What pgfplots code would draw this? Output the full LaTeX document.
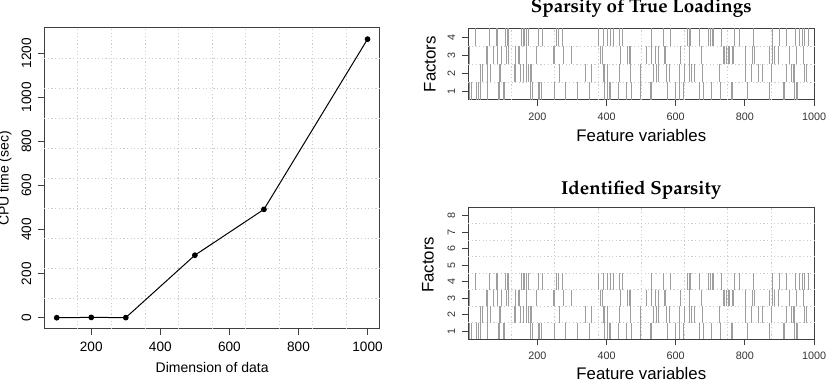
\documentclass[border=0pt]{standalone}
\usepackage{fontspec}
\setmainfont{Liberation Sans}
\usepackage{pgfplots}
\usepackage{pgfplotstable}
\pgfplotsset{compat=1.18}

% Palatino bold for the panel titles
\newcommand\titlefont{\fontencoding{T1}\fontfamily{ppl}\fontseries{b}\selectfont}

% nonzero loadings: feature index and factor
\pgfplotstableread[row sep=\\]{
feat factor\\
20 4\\ 61 4\\ 81 4\\ 84 4\\ 109 4\\ 113 4\\ 117 4\\ 155 4\\ 160 4\\ 164 4\\ 169 4\\ 174 4\\
203 4\\ 215 4\\ 256 4\\ 261 4\\ 273 4\\ 377 4\\ 391 4\\ 402 4\\ 410 4\\ 421 4\\ 437 4\\ 445 4\\
529 4\\ 564 4\\ 585 4\\ 633 4\\ 639 4\\ 643 4\\ 668 4\\ 694 4\\ 699 4\\ 706 4\\ 710 4\\ 732 4\\
771 4\\ 785 4\\ 824 4\\ 880 4\\ 899 4\\ 920 4\\ 947 4\\ 957 4\\ 966 4\\ 973 4\\ 983 4\\
4 3\\ 52 3\\ 56 3\\ 73 3\\ 84 3\\ 97 3\\ 111 3\\ 116 3\\ 138 3\\ 145 3\\ 148 3\\ 169 3\\
198 3\\ 246 3\\ 248 3\\ 275 3\\ 299 3\\ 383 3\\ 387 3\\ 439 3\\ 460 3\\ 466 3\\ 470 3\\ 516 3\\
530 3\\ 540 3\\ 549 3\\ 566 3\\ 569 3\\ 614 3\\ 641 3\\ 675 3\\ 737 3\\ 742 3\\ 747 3\\ 752 3\\
756 3\\ 764 3\\ 768 3\\ 800 3\\ 822 3\\ 826 3\\ 872 3\\ 880 3\\ 884 3\\ 896 3\\ 928 3\\ 949 3\\ 968 3\\
36 2\\ 42 2\\ 56 2\\ 63 2\\ 90 2\\ 94 2\\ 135 2\\ 138 2\\ 150 2\\ 161 2\\ 169 2\\ 174 2\\
181 2\\ 184 2\\ 264 2\\ 338 2\\ 357 2\\ 391 2\\ 395 2\\ 402 2\\ 437 2\\ 468 2\\ 497 2\\ 535 2\\
545 2\\ 549 2\\ 574 2\\ 581 2\\ 612 2\\ 626 2\\ 641 2\\ 646 2\\ 655 2\\ 678 2\\ 726 2\\ 800 2\\
819 2\\ 838 2\\ 851 2\\ 877 2\\ 920 2\\ 935 2\\ 939 2\\ 944 2\\ 973 2\\ 978 2\\
4 1\\ 10 1\\ 23 1\\ 30 1\\ 36 1\\ 56 1\\ 87 1\\ 90 1\\ 102 1\\ 104 1\\ 181 1\\ 186 1\\
203 1\\ 206 1\\ 212 1\\ 248 1\\ 280 1\\ 316 1\\ 352 1\\ 393 1\\ 402 1\\ 408 1\\ 412 1\\ 434 1\\
458 1\\ 472 1\\ 497 1\\ 527 1\\ 530 1\\ 575 1\\ 598 1\\ 610 1\\ 612 1\\ 622 1\\ 668 1\\ 679 1\\
703 1\\ 728 1\\ 761 1\\ 764 1\\ 806 1\\ 872 1\\ 910 1\\ 915 1\\ 944 1\\ 949 1\\ 951 1\\
}\loadings

\pgfplotsset{
  rplot/.style={
    scale only axis, anchor=south west,
    axis line style={black!75, line width=0.5pt},
    tick style={black!75, line width=0.5pt},
    tick align=outside, major tick length=3pt,
    xtick pos=bottom, ytick pos=left,
    /pgf/number format/assume math mode=true,
    major grid style={gray!40, line width=0.4pt, dash pattern=on 0.6pt off 1.2pt},
    extra x tick labels={}, extra y tick labels={},
    extra x tick style={grid=major, major tick length=0pt},
    extra y tick style={grid=major, major tick length=0pt},
  },
  sparse/.style={
    rplot, width=173pt,
    xmin=0.5, xmax=1000.5, ymin=0.5,
    xtick={200,400,...,1000},
    /pgf/number format/1000 sep={},
    extra x ticks={125.5,250.5,...,875.5},
    ticklabel style={font=\fontsize{5.4}{6.5}\selectfont, text=black!80},
    yticklabel style={rotate=90, anchor=south},
    xlabel={Feature variables}, ylabel={Factors},
    label style={font=\fontsize{8.4}{10}\selectfont},
    xlabel style={at={(axis description cs:0.5,0)}, anchor=center},
    title style={at={(axis description cs:0.5,1)}, anchor=base,
                 font=\fontsize{9.4}{11}\selectfont},
  },
  loadbar/.style={only marks, mark=|, mark size=#1,
    mark options={draw=black!38, line width=0.42pt}},
}

\begin{document}
\begin{tikzpicture}
\useasboundingbox (0,0) rectangle (416pt,192pt);

% CPU time against dimension
\begin{axis}[rplot,
  at={(22.15pt,27.5pt)}, width=167.85pt, height=150.5pt,
  xmin=64, xmax=1036, ymin=-50.6, ymax=1314.5,
  xtick={200,400,...,1000}, ytick={0,200,...,1200},
  /pgf/number format/1000 sep={},
  extra x ticks={161.2,258.4,355.6,452.8,550,647.2,744.4,841.6,938.8},
  extra y ticks={85.9,222.4,358.9,495.4,631.9,768.4,904.9,1041.4,1177.9},
  ticklabel style={font=\fontsize{6.8}{8}\selectfont},
  yticklabel style={rotate=90, anchor=south},
  xlabel={Dimension of data}, ylabel={CPU time (sec)},
  label style={font=\fontsize{7}{8}\selectfont},
  xlabel style={at={(axis description cs:0.5,0)}, anchor=center, yshift=-19.35pt},
  ylabel style={at={(axis description cs:-0.106,0.5)}, anchor=base},
]
\addplot[black, line width=0.5pt, mark=*, mark size=1.17pt]
  coordinates {(100,0.5) (200,2) (300,1) (500,284) (700,492) (1000,1264)};
\end{axis}

% true sparsity pattern
\begin{axis}[sparse,
  at={(234.15pt,142pt)}, height=35.85pt, ymax=4.5,
  ytick={1,2,3,4}, extra y ticks={1.5,2.5,3.5},
  title={\titlefont Sparsity of True Loadings},
  title style={yshift=1.8pt},
  xlabel style={yshift=-18pt},
  ylabel style={at={(axis description cs:-0.1107,0.5)}, anchor=center},
]
\addplot[loadbar=4.48pt] table[x=feat, y=factor] {\loadings};
\end{axis}

% recovered sparsity pattern
\begin{axis}[sparse,
  at={(234.15pt,22.35pt)}, height=66pt, ymax=8.5,
  ytick={1,2,...,8}, extra y ticks={1.5,2.5,...,7.5},
  title={\titlefont Identified Sparsity},
  title style={yshift=0.2pt},
  xlabel style={yshift=-17.35pt},
  ylabel style={at={(axis description cs:-0.1165,0.563)}, anchor=center},
]
\addplot[loadbar=4.12pt] table[x=feat, y=factor] {\loadings};
\end{axis}
\end{tikzpicture}
\end{document}
